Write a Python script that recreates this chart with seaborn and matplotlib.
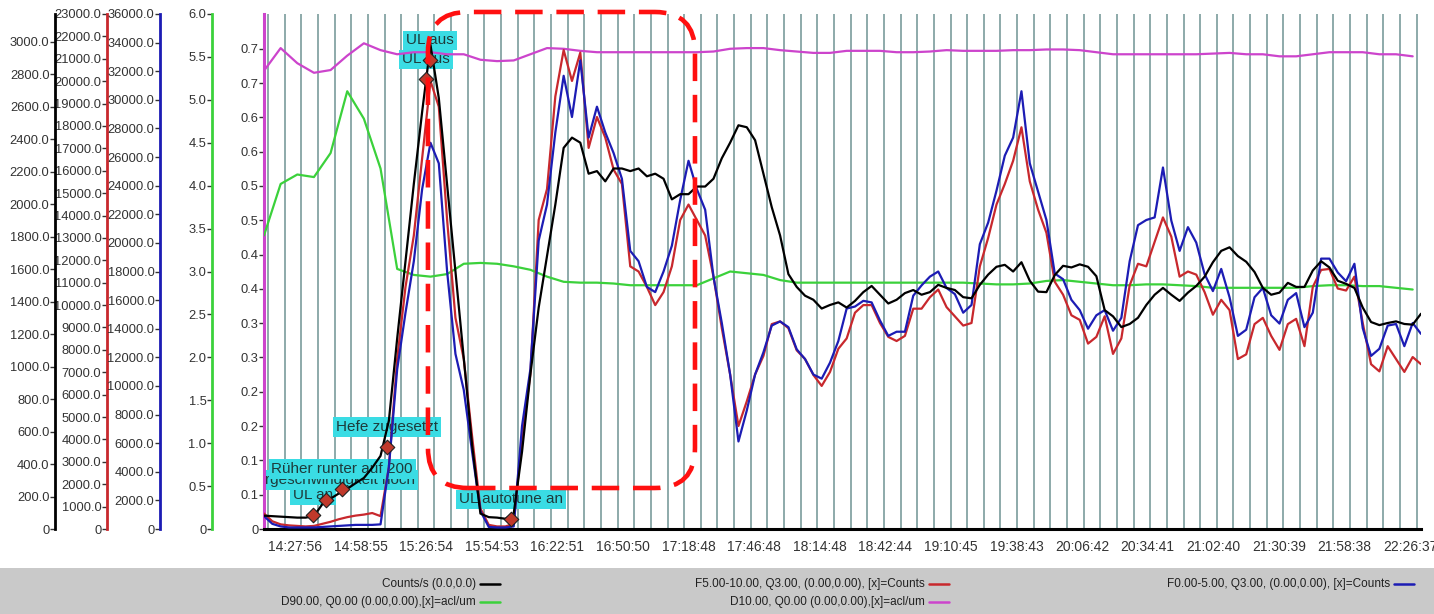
import numpy as np
import matplotlib
matplotlib.use("Agg")
import matplotlib.pyplot as plt
import seaborn as sns
from matplotlib.patches import FancyBboxPatch, Rectangle
from matplotlib.lines import Line2D

# ---------------- data ----------------
# sample times in minutes after 14:00 (evenly sampled recorder)
T_START, T_END, N_SAMPLES = 14.70, 508.6, 140

counts = [82, 79, 76, 73, 70, 70, 79, 152, 187, 219,
          247, 282, 314, 377, 450, 666, 1173, 1648, 2124, 2568,
          2980, 2653, 2118, 1582, 1052, 517, 95, 73, 70, 63,
          95, 476, 951, 1363, 1680, 1997, 2346, 2409, 2378, 2187,
          2203, 2140, 2219, 2219, 2203, 2219, 2171, 2187, 2156, 2029,
          2061, 2061, 2108, 2108, 2156, 2282, 2378, 2485, 2473, 2393,
          2187, 1981, 1807, 1569, 1490, 1436, 1411, 1357, 1379, 1395,
          1363, 1404, 1458, 1496, 1442, 1388, 1411, 1452, 1471, 1442,
          1458, 1503, 1484, 1471, 1427, 1420, 1503, 1566, 1614, 1626,
          1585, 1642, 1528, 1461, 1458, 1563, 1620, 1610, 1629, 1614,
          1556, 1347, 1309, 1243, 1262, 1300, 1379, 1442, 1484, 1442,
          1404, 1455, 1496, 1553, 1642, 1712, 1734, 1680, 1645, 1582,
          1484, 1442, 1455, 1515, 1490, 1490, 1591, 1648, 1610, 1528,
          1509, 1484, 1363, 1274, 1255, 1268, 1278, 1262, 1258, 1325]

f5_10 = [690, 345, 207, 161, 138, 115, 138, 230, 322, 437,
         529, 598, 644, 713, 575, 2760, 7590, 10810, 13110, 16560,
         20010, 18860, 13800, 9430, 7590, 4140, 920, 184, 115, 115,
         230, 4140, 6900, 13800, 15180, 19320, 21390, 20010, 21275, 17020,
         18400, 17480, 16050, 15410, 11730, 11500, 10810, 10000, 10580, 11730,
         13800, 14490, 13800, 13110, 11270, 8970, 6900, 4600, 5700, 6900,
         7730, 9150, 9270, 8970, 7980, 7590, 6880, 6390, 7015, 8050,
         8510, 9660, 10000, 10000, 9200, 8580, 8395, 8625, 9840, 9840,
         10350, 10695, 9910, 9500, 9085, 9200, 11730, 13000, 14490, 15410,
         16445, 17940, 15525, 14260, 13225, 11040, 10465, 9545, 9340, 8280,
         8580, 9500, 7820, 8510, 10880, 11845, 11730, 12830, 13915, 13060,
         11270, 11500, 11360, 10580, 9570, 10235, 9775, 7590, 7800, 9150,
         9430, 8625, 8000, 9150, 9385, 8165, 10810, 11570, 11615, 10740,
         10650, 11270, 9200, 7360, 7040, 8165, 7590, 7015, 7680, 7360]

f0_5 = [900, 360, 180, 108, 108, 108, 108, 144, 180, 216,
        252, 288, 288, 288, 324, 4320, 11160, 15120, 18720, 23760,
        27000, 25560, 18000, 12240, 9720, 5400, 1260, 144, 108, 108,
        180, 7200, 11160, 20160, 22680, 27720, 31680, 28800, 32760, 27360,
        29520, 27720, 26280, 24480, 19440, 18720, 16920, 16560, 18000, 19800,
        23000, 25740, 23760, 22320, 17640, 14400, 10800, 6120, 8280, 10800,
        12350, 14220, 14510, 14110, 12560, 11880, 10800, 10510, 11630, 13140,
        15410, 15550, 15950, 15840, 14580, 13500, 13790, 13790, 16310, 17030,
        17640, 18000, 16850, 16420, 15120, 15660, 19910, 21420, 23650, 26100,
        27360, 30600, 25560, 23580, 21600, 17860, 17460, 16020, 15300, 14000,
        14940, 15300, 13860, 14760, 18720, 21240, 21600, 21780, 25270, 21560,
        19440, 21100, 20020, 17820, 16630, 18180, 16200, 13500, 13930, 16200,
        16850, 14940, 14360, 16020, 16490, 14110, 15120, 18900, 18900, 17930,
        17320, 18540, 14040, 12100, 12600, 14220, 14330, 12780, 14400, 13640]

# D90 and D10 are logged at half the rate (every second sample)
d90 = [3.42, 4.02, 4.13, 4.10, 4.38, 5.10, 4.78, 4.20, 3.03, 2.96, 2.94, 2.97, 3.09, 3.10, 3.09,
       3.06, 3.02, 2.94, 2.88, 2.87, 2.87, 2.86, 2.84, 2.84, 2.84, 2.84, 2.84, 2.92, 3.00,
       2.98, 2.96, 2.90, 2.87, 2.87, 2.87, 2.87, 2.87, 2.87, 2.87, 2.87, 2.87, 2.87, 2.87,
       2.86, 2.85, 2.85, 2.86, 2.89, 2.90, 2.88, 2.86, 2.84, 2.84, 2.85, 2.85, 2.84, 2.83,
       2.81, 2.81, 2.81, 2.81, 2.81, 2.81, 2.83, 2.84, 2.84, 2.83, 2.83, 2.81, 2.79]

d10 = [0.668, 0.701, 0.679, 0.665, 0.669, 0.690, 0.708, 0.698, 0.692, 0.695, 0.695, 0.692, 0.692, 0.684, 0.682,
       0.683, 0.692, 0.701, 0.700, 0.697, 0.695, 0.695, 0.695, 0.695, 0.695, 0.695, 0.695, 0.696, 0.700,
       0.701, 0.701, 0.698, 0.696, 0.694, 0.694, 0.697, 0.697, 0.697, 0.695, 0.695, 0.696, 0.698, 0.697,
       0.697, 0.697, 0.698, 0.698, 0.699, 0.699, 0.698, 0.695, 0.692, 0.692, 0.692, 0.692, 0.692, 0.692,
       0.693, 0.694, 0.692, 0.692, 0.689, 0.689, 0.692, 0.695, 0.695, 0.695, 0.692, 0.692, 0.689]

tick_labels = ["14:27:56", "14:58:55", "15:26:54", "15:54:53", "16:22:51", "16:50:50",
               "17:18:48", "17:46:48", "18:14:48", "18:42:44", "19:10:45", "19:38:43",
               "20:06:42", "20:34:41", "21:02:40", "21:30:39", "21:58:38", "22:26:37"]

event_t = [35.61, 41.16, 48.0, 67.2, 83.84, 85.55, 120.1]
event_counts = [86, 178, 247, 504, 2767, 2885, 60]
event_text = ["UL an", "Rührgeschwindigkeit hoch", "Rüher runter auf 200",
              "Hefe zugesetzt", "UL aus", "UL aus", "UL autotune an"]

legend_labels = ["Counts/s (0.0,0.0)", "D90.00, Q0.00 (0.00,0.00),[x]=acl/um",
                 "F5.00-10.00, Q3.00, (0.00,0.00), [x]=Counts",
                 "D10.00, Q0.00 (0.00,0.00),[x]=acl/um",
                 "F0.00-5.00, Q3.00, (0.00,0.00), [x]=Counts"]

# ---------------- style ----------------
sns.set_theme(style="white")
plt.rcParams['font.family'] = ['Liberation Sans', 'DejaVu Sans']

C_BLACK, C_RED, C_BLUE = "#000000", "#C8282D", "#1C1CB4"
C_GREEN, C_PINK = "#3BD13B", "#CC44CC"
TXT = "#333333"

t = np.linspace(T_START, T_END, N_SAMPLES)
t_slow = t[::2]

W, H = 1434, 614
fig = plt.figure(figsize=(W / 100, H / 100), dpi=100)
fig.patch.set_facecolor("white")
ax = fig.add_axes([264 / W, 85 / H, 1157 / W, 515 / H])
ax.set_facecolor("white")

axg = ax.twinx()
axr = ax.twinx()
axb = ax.twinx()
axk = ax.twinx()


def fmt(v):
    return "0" if v == 0 else f"{v:.1f}"


def style_left(a, pos, color, top, ticks):
    a.set_ylim(0, top)
    a.yaxis.tick_left()
    a.yaxis.set_label_position("left")
    a.spines["left"].set_visible(True)
    a.spines["left"].set_position(("axes", pos))
    a.spines["left"].set_color(color)
    a.spines["left"].set_linewidth(2)
    for s in ("right", "top", "bottom"):
        a.spines[s].set_visible(False)
    a.set_yticks(ticks)
    a.set_yticklabels([fmt(v) for v in ticks])
    a.tick_params(axis="y", direction="out", length=3.5, width=1, colors=TXT,
                  labelsize=9.3, pad=0.5)


style_left(axk, -0.1806, C_BLACK, 3170, np.arange(0, 3001, 200))
style_left(axr, -0.1357, C_RED, 23000, np.arange(0, 23001, 1000))
style_left(axb, -0.0899, C_BLUE, 36000, np.arange(0, 36001, 2000))
style_left(axg, -0.0449, C_GREEN, 6.0, np.arange(0, 6.01, 0.5))

# main (D10) axis
ax.set_ylim(0, 0.7507)
pink_ticks = np.arange(15) * 0.05
pink_labels = ["0"] + [f"{((i * 5 + 5) // 10) / 10:.1f}" for i in range(1, 15)]
ax.set_yticks(pink_ticks)
ax.set_yticklabels(pink_labels)
ax.tick_params(axis="y", direction="out", length=3.5, width=1, colors=TXT, labelsize=9.3, pad=0.5)
ax.spines["left"].set_color(C_PINK)
ax.spines["left"].set_linewidth(2.2)
ax.spines["bottom"].set_color("black")
ax.spines["bottom"].set_linewidth(2.2)
ax.spines["top"].set_visible(False)
ax.spines["right"].set_visible(False)

ax.set_xlim(T_START, T_END)
tick_pos = 27.93 + 28.0 * np.arange(len(tick_labels))
ax.set_xticks(tick_pos)
ax.set_xticklabels(tick_labels)
minor = [p for p in tick_pos[0] + 7.0 * np.arange(-1, 72) if T_START <= p <= T_END]
ax.set_xticks(minor, minor=True)
ax.tick_params(axis="x", which="major", direction="out", length=5, width=1,
               colors=TXT, labelsize=10, pad=3)
ax.tick_params(axis="x", which="minor", direction="out", length=3, width=1, colors=TXT)

# vertical marker lines
grid_t = 16.41 + 7.106 * np.arange(70)
ax.vlines(grid_t, 0, 1, transform=ax.get_xaxis_transform(), color="#6F9393",
          linewidth=1.1, zorder=1)

# event annotations (under the curves)
for et, ev, txt in zip(event_t, event_counts, event_text):
    ax.annotate(txt, xy=(et, ev), xycoords=axk.transData, xytext=(0, 20),
                textcoords="offset pixels", ha="center", va="center", fontsize=11,
                color="#1D3B3B", zorder=2, clip_on=True,
                bbox=dict(boxstyle="square,pad=0.18", fc="#3ADCE4", ec="none"))

# curves
sns.lineplot(x=t_slow, y=d10, ax=ax, color=C_PINK, linewidth=1.6, zorder=3, legend=False)
sns.lineplot(x=t_slow, y=d90, ax=axg, color=C_GREEN, linewidth=1.6, legend=False)
sns.lineplot(x=t, y=f5_10, ax=axr, color=C_RED, linewidth=1.6, legend=False)
sns.lineplot(x=t, y=f0_5, ax=axb, color=C_BLUE, linewidth=1.6, legend=False)
sns.lineplot(x=t, y=counts, ax=axk, color=C_BLACK, linewidth=1.6, legend=False)
sns.scatterplot(x=event_t, y=event_counts, ax=axk, marker="D", s=55, color="#C0392B",
                edgecolor="#202020", linewidth=0.8, zorder=6, legend=False)

for a in (axg, axr, axb, axk):
    a.set_xlabel("")
    a.set_ylabel("")
ax.set_xlabel("")
ax.set_ylabel("")

# hand-drawn highlight frame (axes fractions)
hx0, hx1, hy0, hy1 = 0.1417, 0.3725, 0.0796, 1.0039
aspect = 1157 / 515
frame = FancyBboxPatch((hx0, hy0), hx1 - hx0, hy1 - hy0,
                       boxstyle="round,pad=0,rounding_size=0.0346",
                       mutation_aspect=aspect, transform=axk.transAxes,
                       fill=False, edgecolor="#FF1010", linewidth=3.3,
                       linestyle=(0, (6, 3)), clip_on=False, zorder=10)
axk.add_patch(frame)

# legend band
fig.add_artist(Rectangle((0, 0), 1, 46 / H, transform=fig.transFigure,
                         facecolor="#C9C9C9", edgecolor="none", zorder=0))
legend_colors = [C_BLACK, C_GREEN, C_RED, C_PINK, C_BLUE]
legend_right = [476, 476, 925, 925, 1390]
legend_row_y = [584, 602, 584, 602, 584]
for lab, col, xr, yr in zip(legend_labels, legend_colors, legend_right, legend_row_y):
    fy = 1 - yr / H
    fig.text(xr / W, fy, lab, ha="right", va="center", fontsize=8.5, color="#202020")
    fig.add_artist(Line2D([(xr + 4) / W, (xr + 24) / W], [fy, fy],
                          transform=fig.transFigure, color=col, linewidth=1.8))

fig.savefig("out.png", dpi=100)
